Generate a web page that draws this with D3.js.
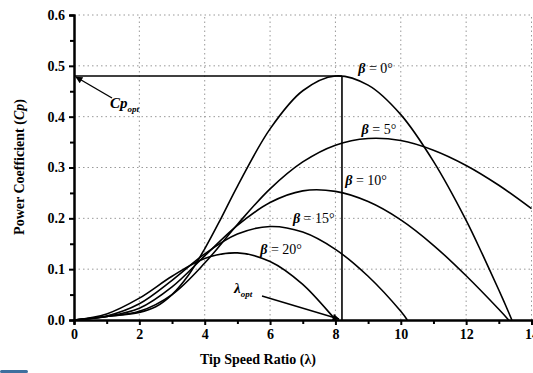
<!DOCTYPE html>
<html>
<head>
<meta charset="utf-8">
<script src="https://cdn.jsdelivr.net/npm/d3@7"></script>
<style>
  body { margin: 0; background: #fff; }
  text { font-family: "Liberation Serif", "DejaVu Serif", serif; font-weight: bold; fill: #000; }
</style>
</head>
<body>
<svg id="chart" width="533" height="373"></svg>
<script>
// tick labels
const lambdaTicks = [0, 2, 4, 6, 8, 10, 12, 14];
const cpTicks = [0.0, 0.1, 0.2, 0.3, 0.4, 0.5, 0.6];

// Cp vs tip speed ratio, one array per pitch angle
const beta0 = [[0,0],[1,0.007],[2,0.015],[2.5,0.026],[3,0.050],[3.5,0.088],[4,0.140],[4.5,0.200],[5,0.263],[6,0.376],[7,0.451],[8,0.480],[9,0.462],[10,0.404],[11,0.312],[12,0.196],[12.5,0.129],[13,0.059],[13.2,0.030],[13.4,0]];
const beta5 = [[0,0],[1,0.007],[2,0.017],[3,0.050],[4,0.112],[5,0.188],[6,0.258],[7,0.311],[8,0.344],[9,0.357],[10,0.353],[11,0.334],[12,0.304],[13,0.265],[14,0.219]];
const beta10 = [[0,0],[1,0.007],[2,0.023],[3,0.065],[4,0.126],[5,0.186],[6,0.231],[7,0.254],[8,0.253],[9,0.233],[10,0.197],[11,0.147],[12,0.087],[13,0.021],[13.3,0]];
const beta15 = [[0,0],[1,0.008],[2,0.032],[3,0.078],[4,0.130],[5,0.169],[6,0.184],[7,0.173],[8,0.139],[9,0.086],[10,0.017],[10.2,0]];
const beta20 = [[0,0],[1,0.012],[2,0.043],[3,0.086],[4,0.121],[5,0.132],[6,0.115],[7,0.070],[8,0.001],[8.02,0]];

const seriesLabels = ["\u03b2 = 0\u00b0", "\u03b2 = 5\u00b0", "\u03b2 = 10\u00b0", "\u03b2 = 15\u00b0", "\u03b2 = 20\u00b0"];
const labelAt = [[8.7, 0.485], [8.8, 0.365], [8.3, 0.265], [6.7, 0.19], [5.7, 0.13]];

const cpOpt = 0.48;
const lambdaOpt = 8.2;

const svg = d3.select("#chart");
const x = d3.scaleLinear().domain([0, 14]).range([74, 531.5]);
const y = d3.scaleLinear().domain([0, 0.6]).range([320, 15]);

// grid
const grid = svg.append("g").attr("stroke", "#999").attr("stroke-width", 1).attr("stroke-dasharray", "1.5,3");
grid.selectAll(".gx").data(lambdaTicks.slice(1)).join("line")
  .attr("x1", d => x(d)).attr("x2", d => x(d)).attr("y1", y(0)).attr("y2", y(0.6));
grid.selectAll(".gy").data(cpTicks.slice(1)).join("line")
  .attr("x1", x(0)).attr("x2", x(14)).attr("y1", d => y(d)).attr("y2", d => y(d));

// axes
const fmt = d3.format(".1f");
svg.append("g").attr("transform", `translate(0,${y(0)})`)
  .call(d3.axisBottom(x).tickValues(lambdaTicks).tickSize(5).tickPadding(4).tickFormat(d3.format("d")));
svg.append("g").attr("transform", `translate(0,${y(0)})`)
  .call(d3.axisBottom(x).tickValues(d3.range(1, 14, 2)).tickSize(4).tickFormat(""));
svg.append("g").attr("transform", `translate(${x(0)},0)`)
  .call(d3.axisLeft(y).tickValues(cpTicks).tickSize(5).tickPadding(4).tickFormat(fmt));
svg.append("g").attr("transform", `translate(${x(0)},0)`)
  .call(d3.axisLeft(y).tickValues(d3.range(0.05, 0.6, 0.1)).tickSize(4).tickFormat(""));
svg.selectAll(".domain").attr("stroke-width", 2).attr("stroke", "#000");
svg.selectAll(".tick line").attr("stroke-width", 2).attr("stroke", "#000");
svg.selectAll(".tick text").attr("font-size", 14).attr("font-family", "Liberation Serif").attr("font-weight", "bold");

// curves
const line = d3.line().x(d => x(d[0])).y(d => y(d[1])).curve(d3.curveCatmullRom.alpha(0.5));
svg.append("g").attr("fill", "none").attr("stroke", "#000").attr("stroke-width", 1.6)
  .selectAll("path").data([beta0, beta5, beta10, beta15, beta20]).join("path")
  .attr("d", line);

// optimum lines
svg.append("line").attr("x1", x(0)).attr("x2", x(lambdaOpt)).attr("y1", y(cpOpt)).attr("y2", y(cpOpt))
  .attr("stroke", "#000").attr("stroke-width", 1.4);
svg.append("line").attr("x1", x(lambdaOpt)).attr("x2", x(lambdaOpt)).attr("y1", y(0)).attr("y2", y(cpOpt))
  .attr("stroke", "#000").attr("stroke-width", 1.6);

// arrow heads
svg.append("defs").append("marker").attr("id", "arr")
  .attr("viewBox", "0 0 10 10").attr("refX", 9).attr("refY", 5)
  .attr("markerWidth", 9).attr("markerHeight", 7).attr("orient", "auto").attr("markerUnits", "userSpaceOnUse")
  .append("path").attr("d", "M0,0L10,5L0,10z").attr("fill", "#000");

svg.append("line").attr("x1", 112).attr("y1", 98).attr("x2", x(0) + 2).attr("y2", y(cpOpt) + 1)
  .attr("stroke", "#000").attr("stroke-width", 1.4).attr("marker-end", "url(#arr)");
svg.append("line").attr("x1", 262).attr("y1", 296).attr("x2", x(lambdaOpt) - 3).attr("y2", y(0) - 1)
  .attr("stroke", "#000").attr("stroke-width", 1.4).attr("marker-end", "url(#arr)");

// annotation text
const cpT = svg.append("text").attr("x", 110).attr("y", 108).attr("font-size", 15).attr("font-style", "italic").attr("fill", "#333");
cpT.append("tspan").text("Cp");
cpT.append("tspan").attr("dy", 4).attr("font-size", 9).text("opt");

const lamT = svg.append("text").attr("x", 234).attr("y", 293).attr("font-size", 15).attr("font-style", "italic").attr("fill", "#333");
lamT.append("tspan").text("\u03bb");
lamT.append("tspan").attr("dy", 4).attr("font-size", 9).text("opt");

svg.append("g").selectAll("text").data(seriesLabels).join("text")
  .attr("x", (d, i) => x(labelAt[i][0])).attr("y", (d, i) => y(labelAt[i][1]))
  .attr("font-size", 14)
  .each(function (d) {
    const t = d3.select(this);
    t.append("tspan").attr("font-style", "italic").text(d.slice(0, 1));
    t.append("tspan").attr("font-weight", "normal").text(d.slice(1));
  });

// axis titles
svg.append("text").attr("x", 258).attr("y", 364).attr("text-anchor", "middle").attr("font-size", 14)
  .text("Tip Speed Ratio (\u03bb)");
const yt = svg.append("text").attr("transform", "translate(24,167) rotate(-90)").attr("text-anchor", "middle").attr("font-size", 14);
yt.append("tspan").text("Power Coefficient (");
yt.append("tspan").attr("font-style", "italic").text("Cp");
yt.append("tspan").text(")");

// small blue bar at bottom-left edge
svg.append("rect").attr("x", 0).attr("y", 370).attr("width", 28).attr("height", 3).attr("rx", 1.5).attr("fill", "#3d6f9e");
</script>
</body>
</html>
